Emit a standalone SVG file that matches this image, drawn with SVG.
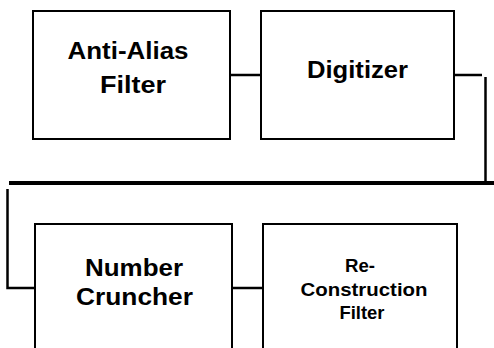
<svg xmlns="http://www.w3.org/2000/svg" width="494" height="348" viewBox="0 0 494 348">
<style>
.box{fill:#fff;stroke:#000;stroke-width:2}
.wire{fill:none;stroke:#000;stroke-width:2.5}
.big{font-family:"Liberation Sans",Arial,Helvetica,sans-serif;font-weight:bold;font-size:23px;fill:#000;text-anchor:middle}
.sm{font-family:"Liberation Sans",Arial,Helvetica,sans-serif;font-weight:bold;font-size:18px;fill:#000;text-anchor:middle}
</style>
<rect width="494" height="348" fill="#fff"/>
<g id="connectors">
<path class="wire" d="M230 75 H261"/>
<path class="wire" d="M454 75 H482"/>
<path class="wire" d="M485.5 77 V183"/>
<path fill="none" stroke="#000" stroke-width="4" d="M9 183 H494"/>
<path class="wire" d="M7.5 189 V288 H35"/>
<path class="wire" d="M232 288 H263"/>
</g>
<g id="anti-alias">
<rect class="box" x="33" y="11" width="197" height="128"/>
<text class="big" x="128" y="59" textLength="121" lengthAdjust="spacingAndGlyphs">Anti-Alias</text>
<text class="big" x="133" y="93" textLength="66" lengthAdjust="spacingAndGlyphs">Filter</text>
</g>
<g id="digitizer">
<rect class="box" x="261" y="11" width="193" height="128"/>
<text class="big" x="357.5" y="78" textLength="101" lengthAdjust="spacingAndGlyphs">Digitizer</text>
</g>
<g id="number-cruncher">
<rect class="box" x="35" y="224" width="197" height="140"/>
<text class="big" x="134" y="276" textLength="98" lengthAdjust="spacingAndGlyphs">Number</text>
<text class="big" x="134.5" y="305" textLength="117" lengthAdjust="spacingAndGlyphs">Cruncher</text>
</g>
<g id="reconstruction">
<rect class="box" x="263" y="224" width="194" height="140"/>
<text class="sm" x="360" y="272" textLength="30" lengthAdjust="spacingAndGlyphs">Re-</text>
<text class="sm" x="364" y="296" textLength="127" lengthAdjust="spacingAndGlyphs">Construction</text>
<text class="sm" x="362" y="319" textLength="45" lengthAdjust="spacingAndGlyphs">Filter</text>
</g>
</svg>
